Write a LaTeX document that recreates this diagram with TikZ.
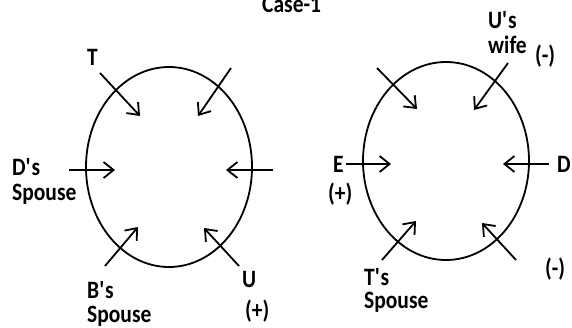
\documentclass[tikz,border=0pt]{standalone}
\usepackage{fontspec}
\setmainfont{Carlito}[FakeStretch=0.86]
\usetikzlibrary{arrows.meta}
\newcommand{\ap}{\textquotesingle}
\tikzset{
  lbl/.style={anchor=base west, inner sep=0pt, font=\fontsize{25}{30}\selectfont\bfseries},
  seat/.style={line width=1.8pt, -{Straight Barb[length=10pt,width=16pt,line width=1.8pt]}},
  table/.style={line width=1.8pt}
}
\begin{document}
\begin{tikzpicture}[x=1pt,y=-1pt]
\useasboundingbox (0,0) rectangle (572,327);
% title
\node[lbl] (title) at (262,12) {Case-1};
% ellipses
\draw[table] (169,167) ellipse [x radius=83, y radius=100];
\draw[table] (446,161) ellipse [x radius=83, y radius=99];
% left arrows
\coordinate (a1s) at (100,73);  \coordinate (a1e) at (140,116);
\coordinate (a2s) at (231,68);  \coordinate (a2e) at (198,116);
\coordinate (a3s) at (69,170);  \coordinate (a3e) at (115,170);
\coordinate (a4s) at (273,170); \coordinate (a4e) at (226,170);
\coordinate (a5s) at (105,266); \coordinate (a5e) at (138,227);
\coordinate (a6s) at (239,266); \coordinate (a6e) at (204,228);
\foreach \i in {1,...,6} \draw[seat] (a\i s) -- (a\i e);
% right arrows
\coordinate (b1s) at (377,68);  \coordinate (b1e) at (417,109);
\coordinate (b2s) at (508,63);  \coordinate (b2e) at (474,110);
\coordinate (b3s) at (346,164); \coordinate (b3e) at (391,164);
\coordinate (b4s) at (549,164); \coordinate (b4e) at (503,164);
\coordinate (b5s) at (382,260); \coordinate (b5e) at (416,221);
\coordinate (b6s) at (516,260); \coordinate (b6e) at (482,223);
\foreach \i in {1,...,6} \draw[seat] (b\i s) -- (b\i e);
% left labels
\node[lbl] (T) at (87,65) {T};
\node[lbl] (Ds1) at (12,175) {D\ap s};
\node[lbl] (Ds2) at (12,200) {Spouse};
\node[lbl] (Bs1) at (87,298) {B\ap s};
\node[lbl] (Bs2) at (87,322) {Spouse};
\node[lbl] (U) at (242,287) {U};
\node[lbl] (Up) at (245,318) {(+)};
% right labels
\node[lbl] (Uw1) at (488,28) {U\ap s};
\node[lbl] (Uw2) at (488,53) {wife};
\node[lbl] (Um) at (535,63) {(-)};
\node[lbl] (E) at (333,172) {E};
\node[lbl] (Ep) at (328,201) {(+)};
\node[lbl] (D) at (557,172) {D};
\node[lbl] (Dm) at (545,276) {(-)};
\node[lbl] (Ts1) at (364,285) {T\ap s};
\node[lbl] (Ts2) at (364,308) {Spouse};
\end{tikzpicture}
\end{document}
